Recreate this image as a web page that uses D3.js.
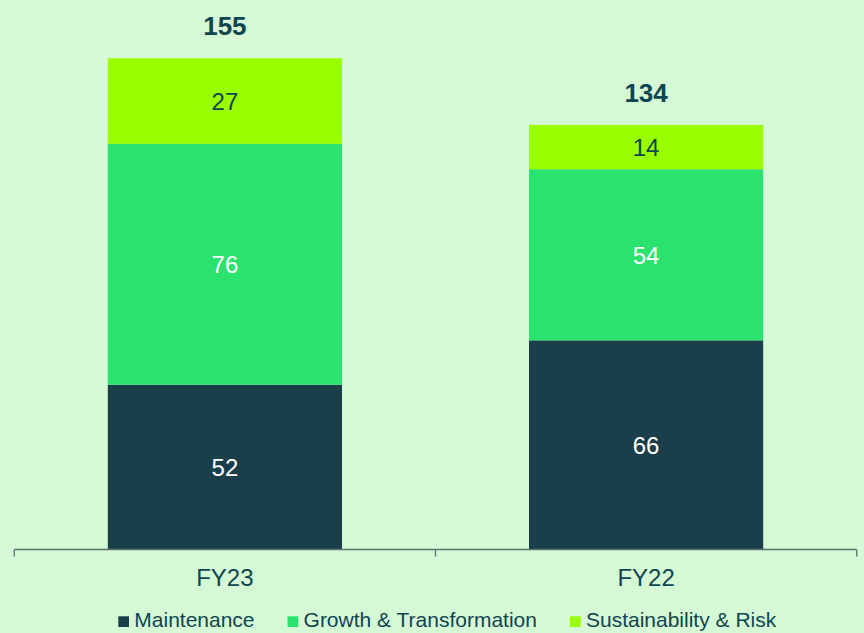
<!DOCTYPE html>
<html>
<head>
<meta charset="utf-8">
<script src="https://cdn.jsdelivr.net/npm/d3@7"></script>
<style>
  html, body { margin: 0; padding: 0; background: #d5f8d5; }
  svg { display: block; font-family: "Liberation Sans", Arial, sans-serif; }
</style>
</head>
<body>
<svg id="chart" width="864" height="633"></svg>
<script>
const categories = ["FY23", "FY22"];
const seriesNames = ["Maintenance", "Growth & Transformation", "Sustainability & Risk"];
const maintenance = [52, 66];
const growth = [76, 54];
const sustainability = [27, 14];
const totals = [155, 134];
const colors = ["#1b3f4a", "#2ae26e", "#99ff00"];
const labelColors = ["#ffffff", "#ffffff", "#0f4550"];
const textColor = "#0f4550";

const svg = d3.select("#chart");
const W = 864, H = 633;
svg.append("rect").attr("width", W).attr("height", H).attr("fill", "#d5f8d5");

const x = d3.scaleBand().domain(categories).range([14.3, 856.7]).paddingInner(0).paddingOuter(0);
const barFrac = 0.556;
const y = d3.scaleLinear().domain([0, 155]).range([549.5, 58.3]);

const rows = categories.map((c, i) => ({
  cat: c,
  "Maintenance": maintenance[i],
  "Growth & Transformation": growth[i],
  "Sustainability & Risk": sustainability[i],
  total: totals[i]
}));
const stack = d3.stack().keys(seriesNames)(rows);

const bw = x.bandwidth() * barFrac;
const bx = d => x(d.data.cat) + (x.bandwidth() - bw) / 2;

const layers = svg.selectAll("g.layer").data(stack).join("g").attr("class", "layer");
layers.selectAll("rect").data((s, si) => s.map(d => Object.assign(d, {si}))).join("rect")
  .attr("x", d => bx(d))
  .attr("width", bw)
  .attr("y", d => y(d[1]))
  .attr("height", d => y(d[0]) - y(d[1]))
  .attr("fill", d => colors[d.si]);

layers.selectAll("text").data(s => s).join("text")
  .attr("x", d => x(d.data.cat) + x.bandwidth() / 2)
  .attr("y", d => (y(d[0]) + y(d[1])) / 2 + 9)
  .attr("text-anchor", "middle")
  .attr("font-size", 24)
  .attr("fill", d => labelColors[d.si])
  .text(d => d[1] - d[0]);

// totals
svg.selectAll("text.total").data(rows).join("text")
  .attr("class", "total")
  .attr("x", d => x(d.cat) + x.bandwidth() / 2)
  .attr("y", d => y(d.total) - 23)
  .attr("text-anchor", "middle")
  .attr("font-size", 26)
  .attr("font-weight", "bold")
  .attr("fill", textColor)
  .text(d => d.total);

// x axis
const axis = d3.axisBottom(x).tickSize(0).tickPadding(0);
const gx = svg.append("g").attr("transform", "translate(0,549.5)");
gx.append("line").attr("x1", 14.3).attr("x2", 856.7).attr("stroke", "#5b7272").attr("stroke-width", 1.3);
const boundaries = [x.range()[0], ...categories.map(c => x(c) + x.bandwidth())];
gx.selectAll("line.tk").data(boundaries).join("line").attr("class", "tk")
  .attr("x1", d => d).attr("x2", d => d).attr("y1", 0).attr("y2", 7)
  .attr("stroke", "#5b7272").attr("stroke-width", 1.3);
gx.selectAll("text.cat").data(categories).join("text").attr("class", "cat")
  .attr("x", d => x(d) + x.bandwidth() / 2)
  .attr("y", 36.5)
  .attr("text-anchor", "middle")
  .attr("font-size", 24)
  .attr("fill", textColor)
  .text(d => d);

// legend
const legend = svg.append("g").attr("transform", "translate(0,627.3)");
let lx = 118.3;
seriesNames.forEach((name, i) => {
  legend.append("rect").attr("x", lx).attr("y", -11).attr("width", 10.7).attr("height", 10.7).attr("fill", colors[i]);
  const t = legend.append("text").attr("x", lx + 16).attr("y", 0)
    .attr("font-size", 21).attr("fill", textColor).text(name);
  lx = lx + 16 + t.node().getComputedTextLength() + 33;
});
</script>
</body>
</html>
